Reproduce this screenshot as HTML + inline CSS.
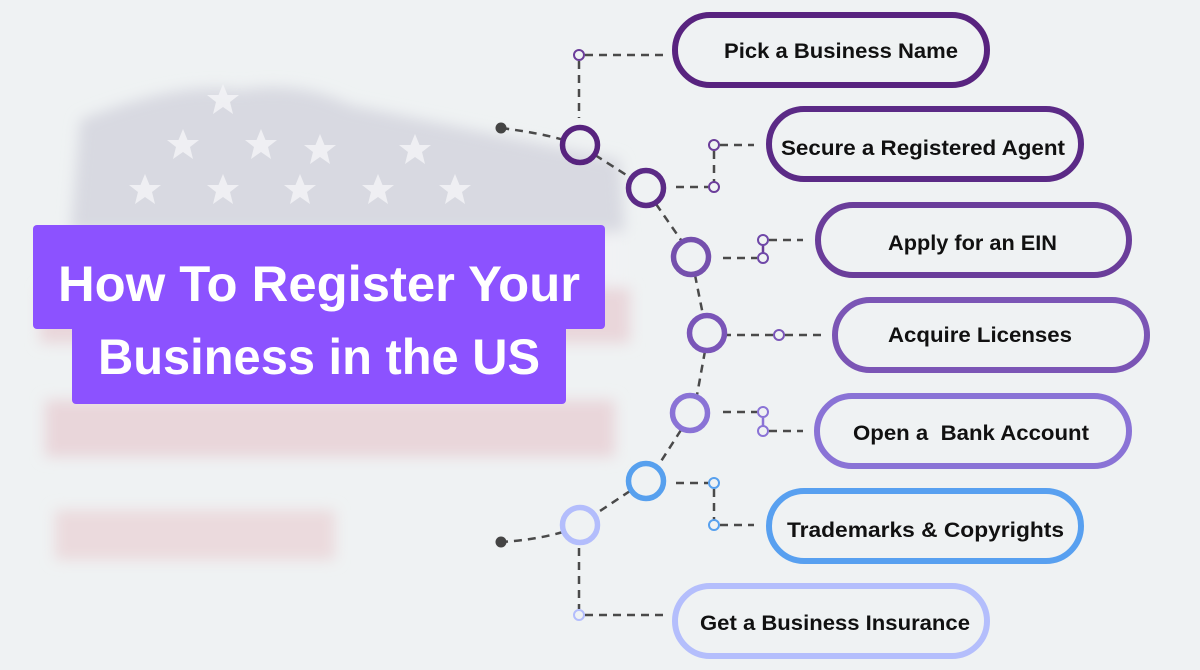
<!DOCTYPE html>
<html><head><meta charset="utf-8"><style>
html,body{margin:0;padding:0;background:#eff2f3;}
svg{display:block}
text{font-family:"Liberation Sans",sans-serif;font-weight:bold;}
</style></head><body>
<svg width="1200" height="670" viewBox="0 0 1200 670" xmlns="http://www.w3.org/2000/svg">
<defs>
<filter id="b" x="-10%" y="-10%" width="120%" height="120%"><feGaussianBlur stdDeviation="7"/></filter>
<g id="st"><polygon points="0,-16 4.5,-5 16,-5 7,2 10,14 0,7 -10,14 -7,2 -16,-5 -4.5,-5" fill="#f4f4f7"/></g>
</defs>
<rect width="1200" height="670" fill="#eff2f3"/>
<!-- flag -->
<g filter="url(#b)">
<path d="M80,120 Q180,80 240,90 Q300,80 350,105 L620,160 L625,235 L70,240 Z" fill="#d8d9e1"/>
<rect x="40" y="288" width="590" height="55" fill="#e9d6da"/>
<rect x="45" y="400" width="570" height="57" fill="#e9d6da"/>
<rect x="55" y="510" width="280" height="50" fill="#ebdadd"/>
<rect x="50" y="232" width="575" height="52" fill="#f1f2f4"/>
</g>
<g opacity="0.85">
<use href="#st" x="223" y="100"/><use href="#st" x="183" y="145"/><use href="#st" x="261" y="145"/><use href="#st" x="145" y="190"/><use href="#st" x="223" y="190"/><use href="#st" x="300" y="190"/><use href="#st" x="378" y="190"/><use href="#st" x="455" y="190"/>
<use href="#st" x="320" y="150"/><use href="#st" x="415" y="150"/>
</g>
<!-- title -->
<rect x="33" y="225" width="572" height="104" rx="4" fill="#8c52ff"/>
<rect x="72" y="320" width="494" height="84" rx="4" fill="#8c52ff"/>
<text x="319" y="301" text-anchor="middle" font-size="50" fill="#fff" textLength="522" lengthAdjust="spacingAndGlyphs">How To Register Your</text>
<text x="319" y="374" text-anchor="middle" font-size="50" fill="#fff" textLength="442" lengthAdjust="spacingAndGlyphs">Business in the US</text>
<!-- main curve -->
<g fill="none" stroke="#4a4a4a" stroke-width="2.5" stroke-dasharray="8,6">
<path d="M501,128 Q540,133 564,140"/>
<path d="M595,155 L631,178"/>
<path d="M656,204 L681,240"/>
<path d="M695,275 L703,315"/>
<path d="M705,351 L697,395"/>
<path d="M681,430 L658,466"/>
<path d="M630,491 L597,513"/>
<path d="M563,532 Q535,540 501,542"/>
<path d="M579,61 V118 M585,55 H666"/>
<path d="M676,187 H708 M714,151 V182 M720,145 H754"/>
<path d="M723,258 H757 M769,240 H803"/>
<path d="M723,335 H773 M785,335 H823"/>
<path d="M723,412 H757 M769,431 H803"/>
<path d="M676,483 H708 M714,489 V520 M720,525 H754"/>
<path d="M579,548 V609 M585,615 H666"/>
</g>
<g stroke-width="2.5" fill="none">
<line x1="763" y1="245" x2="763" y2="253" stroke="#6a3d9a"/>
<line x1="763" y1="418" x2="763" y2="426" stroke="#8a73d6"/>
</g>
<circle cx="501" cy="128" r="5.5" fill="#444"/>
<circle cx="501" cy="542" r="5.5" fill="#444"/>
<g fill="none" stroke-width="2">
<circle cx="579" cy="55" r="5" stroke="#6b3d9a"/>
<circle cx="714" cy="145" r="5" stroke="#6b3d9a"/><circle cx="714" cy="187" r="5" stroke="#6b3d9a"/>
<circle cx="763" cy="240" r="5" stroke="#6f48a8"/><circle cx="763" cy="258" r="5" stroke="#6f48a8"/>
<circle cx="779" cy="335" r="5" stroke="#7a55b8"/>
<circle cx="763" cy="412" r="5" stroke="#8a73d6"/><circle cx="763" cy="431" r="5" stroke="#8a73d6"/>
<circle cx="714" cy="483" r="5" stroke="#57a0ee"/><circle cx="714" cy="525" r="5" stroke="#57a0ee"/>
<circle cx="579" cy="615" r="5" stroke="#b3bdfc"/>
</g>
<g fill="none" stroke-width="5.5">
<circle cx="580" cy="145" r="17.5" stroke="#57237e"/>
<circle cx="646" cy="188" r="17.5" stroke="#5b2a86"/>
<circle cx="691" cy="257" r="17.5" stroke="#7550ad"/>
<circle cx="707" cy="333" r="17.5" stroke="#7a55b8"/>
<circle cx="690" cy="413" r="17.5" stroke="#8a73d6"/>
<circle cx="646" cy="481" r="17.5" stroke="#57a0ee"/>
<circle cx="580" cy="525" r="17.5" stroke="#b3bdfc"/>
</g>
<!-- pills -->
<g fill="none" stroke-width="6">
<rect x="675" y="15" width="312" height="70" rx="35" stroke="#58237f"/>
<rect x="769" y="109" width="312" height="70" rx="35" stroke="#5b2a86"/>
<rect x="818" y="205" width="311" height="70" rx="35" stroke="#6a3d9a"/>
<rect x="835" y="300" width="312" height="70" rx="35" stroke="#7b55b5"/>
<rect x="817" y="396" width="312" height="70" rx="35" stroke="#8a73d6"/>
<rect x="769" y="491" width="312" height="70" rx="35" stroke="#58a0f0"/>
<rect x="675" y="586" width="312" height="70" rx="35" stroke="#b4befc"/>
</g>
<g font-size="21" fill="#111">
<text x="724" y="58" textLength="234" lengthAdjust="spacingAndGlyphs">Pick a Business Name</text>
<text x="781" y="155" textLength="284" lengthAdjust="spacingAndGlyphs">Secure a Registered Agent</text>
<text x="888" y="250" textLength="169" lengthAdjust="spacingAndGlyphs">Apply for an EIN</text>
<text x="888" y="342" textLength="184" lengthAdjust="spacingAndGlyphs">Acquire Licenses</text>
<text x="853" y="440" textLength="236" lengthAdjust="spacingAndGlyphs" xml:space="preserve">Open a  Bank Account</text>
<text x="787" y="537" textLength="277" lengthAdjust="spacingAndGlyphs">Trademarks &amp; Copyrights</text>
<text x="700" y="630" textLength="270" lengthAdjust="spacingAndGlyphs">Get a Business Insurance</text>
</g>
</svg>
</body></html>
